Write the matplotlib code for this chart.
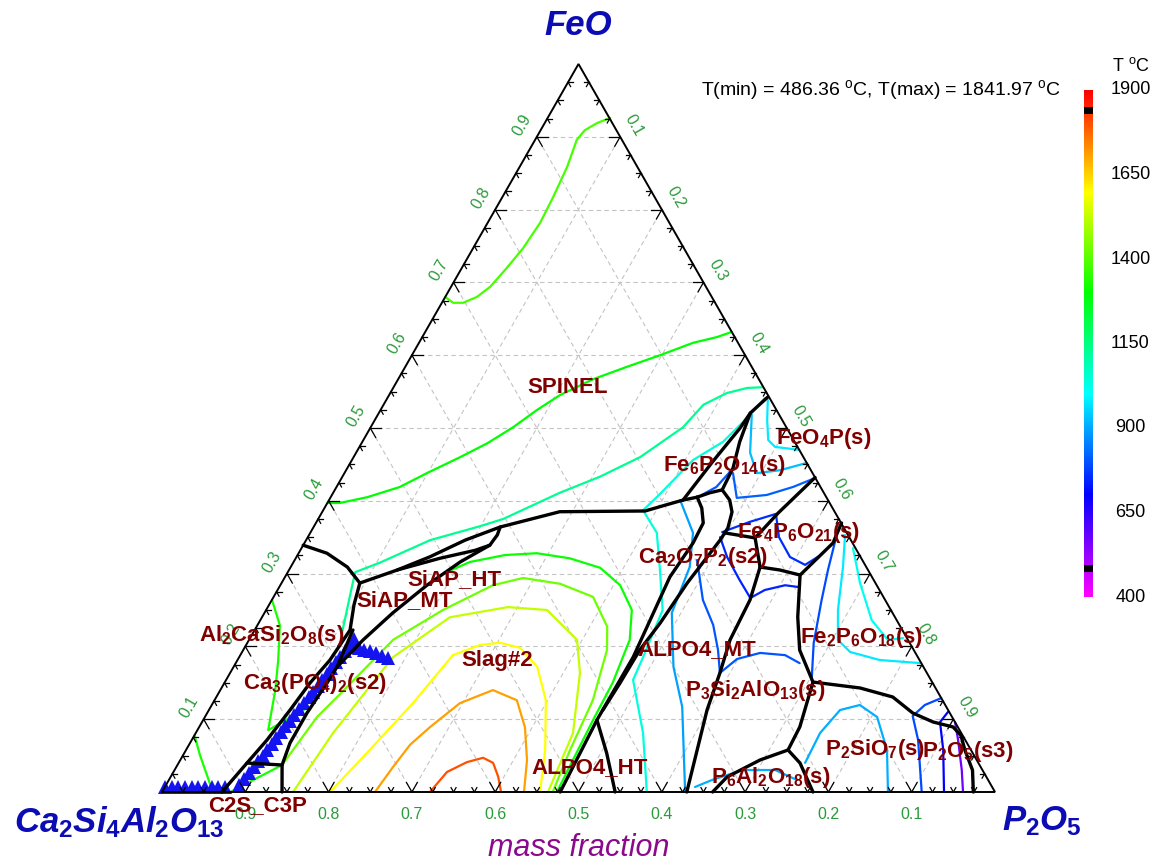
import numpy as np
import matplotlib
matplotlib.use("Agg")
import matplotlib.pyplot as plt
from matplotlib.colors import ListedColormap, Normalize, hsv_to_rgb

plt.rcParams['font.family'] = ['Liberation Sans', 'DejaVu Sans']
plt.rcParams['mathtext.fontset'] = 'custom'
plt.rcParams['mathtext.rm'] = 'Liberation Sans:bold'
plt.rcParams['mathtext.bf'] = 'Liberation Sans:bold'
plt.rcParams['mathtext.it'] = 'Liberation Sans:italic:bold'
plt.rcParams['mathtext.sf'] = 'Liberation Sans'

# ---------------------------------------------------------------------------
# Temperature scale
T_LOW, T_HIGH = 400, 1900
T_MIN, T_MAX = 486.36, 1841.97
CBAR_TICKS = [1900, 1650, 1400, 1150, 900, 650, 400]
AXIS_TICKS = [0.1, 0.2, 0.3, 0.4, 0.5, 0.6, 0.7, 0.8, 0.9]

# ---------------------------------------------------------------------------
# Compositions are (P2O5, FeO) mass fractions; Ca2Si4Al2O13 is the balance.
# Isotherms
iso_1380 = [(0.000, 0.680), (0.0135, 0.672), (0.0255, 0.672), (0.038, 0.680), (0.047, 0.694),
            (0.054, 0.720), (0.060, 0.747), (0.063, 0.782), (0.061, 0.817), (0.057, 0.859),
            (0.050, 0.896), (0.053, 0.909), (0.063, 0.919), (0.075, 0.926)]
iso_1300 = [(0.000, 0.397), (0.015, 0.397), (0.044, 0.405), (0.076, 0.419), (0.099, 0.438),
            (0.128, 0.460), (0.151, 0.479), (0.171, 0.501), (0.188, 0.525), (0.205, 0.545),
            (0.234, 0.567), (0.266, 0.584), (0.298, 0.600), (0.329, 0.617), (0.354, 0.625),
            (0.368, 0.632)]
iso_1130 = [(0.107, 0.218), (0.097, 0.250), (0.087, 0.282), (0.081, 0.302), (0.104, 0.315),
            (0.149, 0.346), (0.199, 0.365), (0.222, 0.375), (0.272, 0.411), (0.309, 0.433),
            (0.344, 0.460), (0.375, 0.501), (0.384, 0.532), (0.404, 0.548), (0.425, 0.555),
            (0.443, 0.556)]
iso_1040 = [(0.453, 0.541), (0.447, 0.518), (0.433, 0.481), (0.4095, 0.456), (0.393, 0.409),
            (0.384, 0.387), (0.416, 0.356), (0.443, 0.309), (0.476, 0.250), (0.485, 0.185),
            (0.4885, 0.154), (0.537, 0.081), (0.582, 0.0)]
iso_1310 = [(0.195, 0.305), (0.2117, 0.316), (0.249, 0.3255), (0.286, 0.328), (0.329, 0.321),
            (0.372, 0.308), (0.408, 0.284), (0.439, 0.250), (0.457, 0.209), (0.466, 0.150),
            (0.468, 0.100), (0.471, 0.050), (0.474, 0.0)]
iso_1430 = [(0.1256, 0.037), (0.1346, 0.103), (0.145, 0.1305), (0.1729, 0.209), (0.2123, 0.250),
            (0.2552, 0.284), (0.2864, 0.294), (0.335, 0.286), (0.3835, 0.268), (0.421, 0.227),
            (0.4367, 0.195), (0.4542, 0.126), (0.461, 0.058), (0.469, 0.0)]
iso_1530 = [(0.1573, 0.0), (0.1648, 0.081), (0.1846, 0.185), (0.2255, 0.240), (0.2883, 0.254),
            (0.3372, 0.250), (0.3938, 0.209), (0.420, 0.1635), (0.4529, 0.081), (0.4634, 0.0)]
iso_1600 = [(0.2017, 0.0), (0.2193, 0.054), (0.2402, 0.122), (0.2552, 0.188), (0.2808, 0.202),
            (0.3035, 0.205), (0.3309, 0.198), (0.3644, 0.172), (0.3978, 0.126), (0.431, 0.058),
            (0.4538, 0.0)]
iso_1710 = [(0.2557, 0.0), (0.2601, 0.034), (0.2654, 0.065), (0.2771, 0.089), (0.2966, 0.122),
            (0.3273, 0.140), (0.363, 0.126), (0.3912, 0.089), (0.4162, 0.044), (0.4346, 0.0)]
iso_1805 = [(0.3217, 0.0), (0.3284, 0.0275), (0.3455, 0.041), (0.362, 0.047), (0.3775, 0.040),
            (0.3931, 0.021), (0.407, 0.0)]
iso_1330_a = [(0.000, 0.078), (0.020, 0.051), (0.061, 0.0)]
iso_1330_b = [(0.000, 0.264), (0.027, 0.229), (0.049, 0.181), (0.066, 0.140), (0.085, 0.085),
              (0.1164, 0.1154)]
iso_1330_c = [(0.082, 0.0), (0.103, 0.018), (0.1256, 0.037)]
iso_975_a = [(0.458, 0.5385), (0.471, 0.511), (0.486, 0.4835), (0.499, 0.474), (0.530, 0.470)]
iso_925 = [(0.449, 0.518), (0.473, 0.466), (0.495, 0.438), (0.521, 0.442), (0.548, 0.452)]
iso_815 = [(0.4665, 0.438), (0.488, 0.404), (0.522, 0.408), (0.548, 0.419), (0.568, 0.431)]
iso_810 = [(0.444, 0.408), (0.456, 0.419), (0.462, 0.440)]
iso_890 = [(0.4215, 0.401), (0.4595, 0.356), (0.479, 0.309), (0.489, 0.246), (0.528, 0.172),
           (0.566, 0.117), (0.628, 0.0)]
iso_755 = [(0.494, 0.357), (0.520, 0.371), (0.546, 0.382), (0.5657, 0.350), (0.5925, 0.3228),
           (0.616, 0.312), (0.6267, 0.324)]
iso_740 = [(0.495, 0.350), (0.517, 0.3228), (0.548, 0.291), (0.573, 0.2665), (0.585, 0.2775),
           (0.606, 0.284), (0.623, 0.2816)]
iso_800 = [(0.483, 0.3187), (0.5175, 0.2637), (0.547, 0.2294), (0.570, 0.195), (0.588, 0.1635),
           (0.599, 0.1827), (0.6225, 0.191), (0.654, 0.188), (0.677, 0.177)]
iso_790_a = [(0.6315, 0.360), (0.647, 0.305), (0.660, 0.2637), (0.680, 0.2047), (0.703, 0.1538)]
iso_975_b = [(0.6435, 0.353), (0.663, 0.309), (0.6865, 0.250), (0.707, 0.2088), (0.730, 0.1923),
             (0.771, 0.1813), (0.8226, 0.177)]
iso_1020 = [(0.662, 0.335), (0.6945, 0.287), (0.734, 0.236), (0.767, 0.2088), (0.7838, 0.2115)]
iso_905_a = [(0.6365, 0.0069), (0.652, 0.0165), (0.682, 0.0302), (0.721, 0.0302), (0.754, 0.0165)]
iso_905_b = [(0.752, 0.040), (0.7495, 0.081), (0.7577, 0.1126), (0.778, 0.1195), (0.807, 0.103),
             (0.8415, 0.0577), (0.8715, 0.0)]
iso_790_b = [(0.871, 0.129), (0.856, 0.1195), (0.849, 0.1044), (0.872, 0.0714), (0.912, 0.0)]
iso_700 = [(0.8886, 0.110), (0.886, 0.096), (0.909, 0.0577), (0.9388, 0.0)]
iso_570 = [(0.904, 0.096), (0.920, 0.0714), (0.945, 0.0302), (0.9616, 0.0)]

ISOTHERMS = [
    (1380, iso_1380), (1300, iso_1300), (1130, iso_1130), (1040, iso_1040),
    (1310, iso_1310), (1430, iso_1430), (1530, iso_1530), (1600, iso_1600),
    (1710, iso_1710), (1805, iso_1805), (1330, iso_1330_a), (1330, iso_1330_b),
    (1330, iso_1330_c), (975, iso_975_a), (925, iso_925), (815, iso_815), (810, iso_810),
    (890, iso_890), (755, iso_755), (740, iso_740), (800, iso_800), (790, iso_790_a),
    (975, iso_975_b), (1020, iso_1020), (905, iso_905_a), (905, iso_905_b),
    (790, iso_790_b), (700, iso_700), (570, iso_570),
]

# Phase boundaries
bnd_spinel_anorthite = [(0.000, 0.339), (0.034, 0.328), (0.068, 0.309), (0.094, 0.287)]
bnd_spinel_liquid = [(0.094, 0.287), (0.130, 0.305), (0.160, 0.323), (0.191, 0.346), (0.224, 0.364),
                     (0.285, 0.385), (0.387, 0.386), (0.407, 0.394), (0.425, 0.401), (0.440, 0.405)]
bnd_anorthite_c3p = [(0.094, 0.287), (0.102, 0.2569), (0.1145, 0.2225), (0.111, 0.1813),
                     (0.1028, 0.1497), (0.0974, 0.1126), (0.0903, 0.0714), (0.0821, 0.0398),
                     (0.072, 0.0)]
bnd_siap_ht = [(0.130, 0.305), (0.173, 0.321), (0.210, 0.332), (0.224, 0.339), (0.226, 0.353),
               (0.224, 0.364)]
bnd_siap_mt = [(0.224, 0.339), (0.200, 0.316), (0.176, 0.284), (0.154, 0.246), (0.137, 0.209),
               (0.1242, 0.1717), (0.1232, 0.1497), (0.1198, 0.1085), (0.120, 0.0673),
               (0.1256, 0.0371), (0.1441, 0.0)]
bnd_c3p_inner = [(0.1242, 0.1717), (0.118, 0.2225)]
bnd_c2s_c3p = [(0.1256, 0.0371), (0.0821, 0.0398)]
bnd_fe6_a = [(0.425, 0.401), (0.434, 0.453), (0.444, 0.500), (0.446, 0.5206), (0.456, 0.5426)]
bnd_fe6_b = [(0.440, 0.405), (0.452, 0.411), (0.465, 0.415), (0.463, 0.445), (0.453, 0.481),
             (0.446, 0.5206)]
bnd_alpo4_a = [(0.440, 0.405), (0.453, 0.390), (0.465, 0.3695), (0.4665, 0.342), (0.462, 0.2953),
               (0.473, 0.1854), (0.4727, 0.0989), (0.478, 0.0)]
bnd_alpo4_b = [(0.465, 0.415), (0.481, 0.401), (0.492, 0.3846), (0.498, 0.3626), (0.497, 0.346),
               (0.487, 0.287), (0.482, 0.232), (0.476, 0.195), (0.475, 0.1497), (0.473, 0.1126)]
bnd_alpo4_ht = [(0.4727, 0.0989), (0.507, 0.0536), (0.544, 0.0)]
bnd_c2p_fe4 = [(0.497, 0.356), (0.5375, 0.349), (0.5635, 0.309)]
bnd_fe4_low = [(0.5635, 0.309), (0.589, 0.305), (0.617, 0.298)]
bnd_fe4_fe2 = [(0.617, 0.298), (0.6345, 0.342), (0.631, 0.3695)]
bnd_fe4_fe6 = [(0.5375, 0.349), (0.548, 0.383), (0.568, 0.432)]
bnd_alpo4_mt = [(0.5635, 0.309), (0.574, 0.2637), (0.5775, 0.2088), (0.588, 0.1635), (0.598, 0.1126),
                (0.630, 0.0)]
bnd_fe2_p3 = [(0.617, 0.298), (0.643, 0.2404), (0.668, 0.195), (0.706, 0.151)]
bnd_fe2_p2 = [(0.706, 0.151), (0.7665, 0.1429), (0.812, 0.1305), (0.847, 0.1085), (0.8775, 0.0962),
              (0.905, 0.0893), (0.920, 0.078), (0.935, 0.0577), (0.958, 0.030), (0.974, 0.0)]
bnd_p3_p2 = [(0.706, 0.151), (0.712, 0.1264), (0.721, 0.0893), (0.7227, 0.0577)]
bnd_p6_left = [(0.7227, 0.0577), (0.696, 0.044), (0.668, 0.0206), (0.661, 0.0)]
bnd_p6_right = [(0.7227, 0.0577), (0.746, 0.0398), (0.7815, 0.0)]

BOUNDARIES = [bnd_spinel_anorthite, bnd_spinel_liquid, bnd_anorthite_c3p, bnd_siap_ht, bnd_siap_mt,
              bnd_c3p_inner, bnd_c2s_c3p, bnd_fe6_a, bnd_fe6_b, bnd_alpo4_a, bnd_alpo4_b,
              bnd_alpo4_ht, bnd_c2p_fe4, bnd_fe4_low, bnd_fe4_fe2, bnd_fe4_fe6, bnd_alpo4_mt,
              bnd_fe2_p3, bnd_fe2_p2, bnd_p3_p2, bnd_p6_left, bnd_p6_right]

# Experimental points (P2O5, FeO)
exp_p2o5 = [0.000, 0.008, 0.016, 0.024, 0.032, 0.040, 0.048, 0.056, 0.064, 0.072,
            0.087, 0.089, 0.091, 0.093, 0.094, 0.096, 0.097, 0.099, 0.100, 0.102,
            0.103, 0.105, 0.106, 0.108, 0.109, 0.111, 0.112, 0.114, 0.115, 0.117,
            0.118, 0.120, 0.121, 0.123, 0.124, 0.126,
            0.129, 0.137, 0.145, 0.153, 0.161, 0.171, 0.179]
exp_feo = [0.007, 0.007, 0.007, 0.007, 0.007, 0.007, 0.007, 0.007, 0.007, 0.007,
           0.010, 0.018, 0.026, 0.034, 0.042, 0.050, 0.058, 0.066, 0.074, 0.082,
           0.090, 0.098, 0.106, 0.114, 0.122, 0.130, 0.138, 0.146, 0.154, 0.162,
           0.170, 0.178, 0.186, 0.194, 0.202, 0.210,
           0.199, 0.198, 0.195, 0.194, 0.191, 0.187, 0.184]

# Phase field labels: (text, P2O5, FeO)
PHASE_LABELS = [
    ("SPINEL", 0.209, 0.555),
    (r"Fe$_6$P$_2$O$_{14}$(s)", 0.451, 0.449),
    (r"FeO$_4$P(s)", 0.552, 0.486),
    (r"Fe$_4$P$_6$O$_{21}$(s)", 0.586, 0.357),
    (r"Ca$_2$O$_7$P$_2$(s2)", 0.488, 0.3228),
    ("SiAP_HT", 0.206, 0.2912),
    ("SiAP_MT", 0.1605, 0.2624),
    (r"Al$_2$CaSi$_2$O$_8$(s)", 0.025, 0.2143),
    (r"Ca$_3$(PO$_4$)$_2$(s2)", 0.109, 0.1497),
    ("Slag#2", 0.312, 0.180),
    ("ALPO4_MT", 0.544, 0.195),
    (r"P$_3$Si$_2$AlO$_{13}$(s)", 0.642, 0.1401),
    (r"Fe$_2$P$_6$O$_{18}$(s)", 0.734, 0.2129),
    ("ALPO4_HT", 0.497, 0.033),
    (r"P$_6$Al$_2$O$_{18}$(s)", 0.721, 0.0206),
    (r"P$_2$SiO$_7$(s)", 0.827, 0.0577),
    (r"P$_2$O$_5$(s3)", 0.940, 0.055),
    ("C2S_C3P", 0.124, -0.0192),
]


def tern(p, f):
    """(P2O5, FeO) mass fractions -> cartesian position in the triangle."""
    p = np.asarray(p, dtype=float)
    f = np.asarray(f, dtype=float)
    return p + f / 2.0, f


def tern_pts(pts):
    a = np.asarray(pts, dtype=float)
    return tern(a[:, 0], a[:, 1])


# Colour map: hue sweep magenta (cold) -> red (hot)
hues = np.linspace(300, 0, 256) / 360.0
cmap = ListedColormap(hsv_to_rgb(np.column_stack([hues, np.ones(256), np.ones(256)])))
norm = Normalize(T_LOW, T_HIGH)

W, H = 1155, 861
fig = plt.figure(figsize=(W / 100, H / 100), dpi=100)
ax = fig.add_axes([0, 0, 1, 1])
ax.set_xlim(-162 / 833, 993 / 833)
ax.set_ylim((792 - 861) / 728, 792 / 728)
ax.axis('off')

# dashed composition grid
grid_kw = dict(color='#c4c4c4', lw=0.8, ls=(0, (4, 3)), zorder=1)
for v in AXIS_TICKS:
    ax.plot(*tern([0, 1 - v], [v, v]), **grid_kw)        # FeO = const
    ax.plot(*tern([v, v], [0, 1 - v]), **grid_kw)        # P2O5 = const
    ax.plot(*tern([1 - v, 0], [0, 1 - v]), **grid_kw)    # Ca2Si4Al2O13 = const

# isotherms
for temp, pts in ISOTHERMS:
    ax.plot(*tern_pts(pts), color=cmap(norm(temp)), lw=1.6, zorder=2,
            solid_joinstyle='round', solid_capstyle='round')

# experimental points
ax.plot(*tern(exp_p2o5, exp_feo), ls='none', marker='^', ms=10, color='#1414f0',
        markeredgewidth=0, zorder=2.5)

# phase boundaries
for pts in BOUNDARIES:
    ax.plot(*tern_pts(pts), color='black', lw=2.4, zorder=3,
            solid_joinstyle='round', solid_capstyle='round')

# triangle frame
ax.plot(*tern([0, 1, 0, 0], [0, 0, 1, 0]), color='black', lw=1.4, zorder=4,
        solid_joinstyle='miter')

# edge ticks
tick_kw = dict(color='black', lw=0.9, zorder=4)
for k in range(1, 40):
    t = k * 0.025
    L = 0.013 if k % 4 == 0 else 0.006
    # left edge (FeO)
    ax.plot(*tern([0, L], [t, t]), **tick_kw)
    ax.plot(*tern([0, L], [t, t - L]), **tick_kw)
    # right edge (P2O5)
    ax.plot(*tern([1 - t, 1 - t - L], [t, t]), **tick_kw)
    ax.plot(*tern([1 - t, 1 - t], [t, t - L]), **tick_kw)
    # bottom edge
    ax.plot(*tern([t, t], [0, L]), **tick_kw)
    ax.plot(*tern([t, t - L], [0, L]), **tick_kw)

# tick labels
lab_kw = dict(textcoords='offset points', ha='center', va='center', color='#2a9a3a',
              fontsize=11.5, zorder=6)
for v in AXIS_TICKS:
    ax.annotate(f"{v:.1f}", xy=tern(0, v), xytext=(-10.5, 8.5), rotation=60, **lab_kw)
    ax.annotate(f"{v:.1f}", xy=tern(v, 1 - v), xytext=(10, 8.5), rotation=-60, **lab_kw)
    ax.annotate(f"{v:.1f}", xy=tern(1 - v, 0), xytext=(0, -16.5), rotation=0, **lab_kw)

# phase labels
for text, p, f in PHASE_LABELS:
    ax.text(*tern(p, f), text, ha='center', va='center', color='#800000',
            fontsize=16, fontweight='bold', zorder=6)

# component labels
comp_kw = dict(color='#0c0cb4', fontsize=25, fontweight='bold', fontstyle='italic',
               ha='center', va='center', textcoords='offset points', zorder=6)
ax.annotate("FeO", xy=tern(0, 1), xytext=(0, 28), **comp_kw)
ax.annotate(r"$\mathit{Ca_2Si_4Al_2O_{13}}$", xy=tern(0, 0), xytext=(-31, -22), **comp_kw)
ax.annotate(r"$\mathit{P_2O_5}$", xy=tern(1, 0), xytext=(34, -21), **comp_kw)
ax.annotate("mass fraction", xy=tern(0.5, 0), xytext=(0, -40), textcoords='offset points',
            ha='center', va='center', color='#8b0a8b', fontsize=22, fontstyle='italic', zorder=6)

fig.text(881 / W, 1 - 90 / H,
         r"T(min) = %.2f $^{\mathsf{o}}$C, T(max) = %.2f $^{\mathsf{o}}$C" % (T_MIN, T_MAX),
         ha='center', va='center', fontsize=14, color='black')

# colour bar
cax = fig.add_axes([1084 / W, (861 - 597) / H, 9 / W, 507 / H])
cax.imshow(np.linspace(T_LOW, T_HIGH, 400)[:, None], origin='lower', aspect='auto',
           extent=(0, 1, T_LOW, T_HIGH), cmap=cmap, norm=norm)
for tm in (T_MIN, T_MAX):
    cax.axhline(tm, color='black', lw=5)
cax.set_xlim(0, 1)
cax.set_ylim(T_LOW, T_HIGH)
cax.axis('off')
for tv in CBAR_TICKS:
    cax.annotate(f"{tv}", xy=(1, tv), xycoords=('axes fraction', 'data'), xytext=(27, 0),
                 textcoords='offset points', ha='center', va='center', fontsize=13)
cax.annotate(r"T $^{\mathsf{o}}$C", xy=(1, T_HIGH), xycoords=('axes fraction', 'data'),
             xytext=(27, 17), textcoords='offset points', ha='center', va='center', fontsize=13)

fig.savefig("out.png", dpi=100)
